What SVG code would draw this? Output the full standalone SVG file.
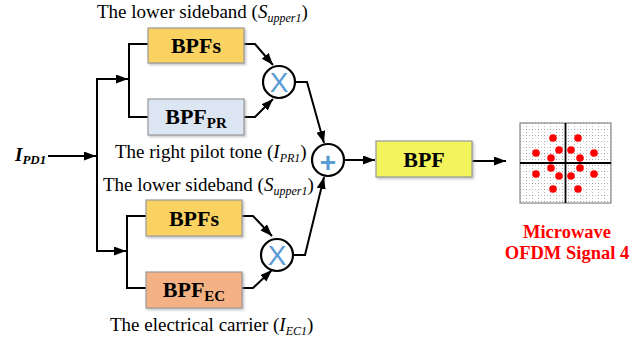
<svg xmlns="http://www.w3.org/2000/svg" width="644" height="343" viewBox="0 0 644 343">
<style>
.lbl{font-family:"Liberation Serif",serif;font-size:19px;fill:#000}
.box{stroke:#9a9a9a;stroke-width:1.2}
.bt{font-family:"Liberation Serif",serif;font-weight:bold;font-size:22px;fill:#000;text-anchor:middle}
.ln{fill:none;stroke:#000;stroke-width:2}
.circ{fill:#fff;stroke:#000;stroke-width:2.2}
.op{font-family:"Liberation Sans",sans-serif;font-size:28px;fill:#5b9bd5;text-anchor:middle}
.red{font-family:"Liberation Serif",serif;font-weight:bold;font-size:18.5px;fill:#f00;text-anchor:middle}
.dot{fill:#f00}
</style>
<defs>
<marker id="ah" markerUnits="userSpaceOnUse" markerWidth="13" markerHeight="10" refX="12" refY="4.5" orient="auto">
<path d="M0,0 L12,4.5 L0,9 z" fill="#000"/>
</marker>
<pattern id="grid" x="520" y="123" width="6" height="6" patternUnits="userSpaceOnUse">
<rect x="0" y="0" width="1" height="1" fill="#999"/>
<rect x="3" y="0" width="1" height="1" fill="#bbb"/>
<rect x="0" y="3" width="1" height="1" fill="#bbb"/>
</pattern>
<filter id="sh" x="-10%" y="-10%" width="130%" height="140%">
<feDropShadow dx="1.5" dy="1.5" stdDeviation="1" flood-color="#888" flood-opacity="0.5"/>
</filter>
</defs>
<rect width="644" height="343" fill="#fff"/>

<g id="connectors">
<line class="ln" x1="48" y1="156" x2="96" y2="156" marker-end="url(#ah)"/>
<line class="ln" x1="97" y1="78" x2="97" y2="252"/>
<line class="ln" x1="96" y1="79" x2="128" y2="79" marker-end="url(#ah)"/>
<polyline class="ln" points="148,44 129,44 129,117 148,117"/>
<polyline class="ln" points="244,44 255,44 273,65" marker-end="url(#ah)"/>
<polyline class="ln" points="244,117 255,117 273,99" marker-end="url(#ah)"/>
<polyline class="ln" points="295,82 307,82 324,143" marker-end="url(#ah)"/>
<line class="ln" x1="344" y1="160" x2="375" y2="160" marker-end="url(#ah)"/>
<line class="ln" x1="472" y1="161" x2="506" y2="161" marker-end="url(#ah)"/>
<line class="ln" x1="96" y1="251" x2="126" y2="251" marker-end="url(#ah)"/>
<polyline class="ln" points="146,216 127,216 127,288 146,288"/>
<polyline class="ln" points="242,216 253,216 272,236" marker-end="url(#ah)"/>
<polyline class="ln" points="242,288 253,288 272,270" marker-end="url(#ah)"/>
<polyline class="ln" points="293,255 305,255 324,177" marker-end="url(#ah)"/>
</g>

<g id="input">
<text x="15" y="161" font-family="Liberation Serif,serif" font-weight="bold" font-style="italic" font-size="19">I<tspan font-size="13" dy="3">PD1</tspan></text>
</g>

<g id="bpfs-top">
<rect class="box" x="148" y="28" width="96" height="35" fill="#f9d262" filter="url(#sh)"/>
<text class="bt" x="196" y="53">BPFs</text>
</g>
<g id="bpf-pr">
<rect class="box" x="148" y="99" width="96" height="36" fill="#dce6f2" filter="url(#sh)"/>
<text class="bt" x="196" y="124">BPF<tspan font-size="15" dy="4">PR</tspan></text>
</g>
<g id="mult-top">
<circle class="circ" cx="279" cy="82" r="16"/>
<text class="op" x="279" y="92">X</text>
</g>
<g id="sum">
<circle class="circ" cx="328" cy="160" r="16"/>
<text class="op" x="328" y="172" font-size="36" font-weight="bold">+</text>
</g>
<g id="bpf-out">
<rect class="box" x="376" y="141" width="96" height="36" fill="#f3f35c" filter="url(#sh)"/>
<text class="bt" x="424" y="167">BPF</text>
</g>
<g id="bpfs-bottom">
<rect class="box" x="146" y="200" width="96" height="36" fill="#f9d262" filter="url(#sh)"/>
<text class="bt" x="194" y="226">BPFs</text>
</g>
<g id="bpf-ec">
<rect class="box" x="146" y="272" width="96" height="36" fill="#f4b183" filter="url(#sh)"/>
<text class="bt" x="194" y="297">BPF<tspan font-size="15" dy="4">EC</tspan></text>
</g>
<g id="mult-bottom">
<circle class="circ" cx="277" cy="255" r="16"/>
<text class="op" x="277" y="265">X</text>
</g>

<g id="labels">
<text class="lbl" x="97" y="18">The lower sideband (<tspan font-style="italic">S</tspan><tspan font-style="italic" font-size="12" dy="4">upper1</tspan><tspan dy="-4">)</tspan></text>
<text class="lbl" x="115" y="158">The right pilot tone (<tspan font-style="italic">I</tspan><tspan font-style="italic" font-size="12" dy="4">PR1</tspan><tspan dy="-4">)</tspan></text>
<text class="lbl" x="103" y="191">The lower sideband (<tspan font-style="italic">S</tspan><tspan font-style="italic" font-size="12" dy="4">upper1</tspan><tspan dy="-4">)</tspan></text>
<text class="lbl" x="110" y="331">The electrical carrier (<tspan font-style="italic">I</tspan><tspan font-style="italic" font-size="12" dy="4">EC1</tspan><tspan dy="-4">)</tspan></text>
</g>

<g id="constellation">
<rect x="520" y="123" width="91" height="80" fill="url(#grid)" stroke="#888" stroke-width="1.2"/>
<line x1="565.5" y1="123" x2="565.5" y2="203" stroke="#000" stroke-width="1.8"/>
<line x1="520" y1="163" x2="611" y2="163" stroke="#000" stroke-width="1.8"/>
<circle class="dot" cx="553" cy="138" r="3.8"/>
<circle class="dot" cx="578" cy="138" r="3.8"/>
<circle class="dot" cx="536" cy="153" r="3.8"/>
<circle class="dot" cx="559" cy="150" r="3.8"/>
<circle class="dot" cx="571" cy="150" r="3.8"/>
<circle class="dot" cx="594" cy="153" r="3.8"/>
<circle class="dot" cx="551" cy="158" r="3.8"/>
<circle class="dot" cx="580" cy="158" r="3.8"/>
<circle class="dot" cx="551" cy="168" r="3.8"/>
<circle class="dot" cx="580" cy="168" r="3.8"/>
<circle class="dot" cx="536" cy="174" r="3.8"/>
<circle class="dot" cx="559" cy="176" r="3.8"/>
<circle class="dot" cx="571" cy="176" r="3.8"/>
<circle class="dot" cx="594" cy="174" r="3.8"/>
<circle class="dot" cx="553" cy="189" r="3.8"/>
<circle class="dot" cx="578" cy="189" r="3.8"/>
<text class="red" x="567" y="238">Microwave</text>
<text class="red" x="567" y="259">OFDM Signal 4</text>
</g>
</svg>
